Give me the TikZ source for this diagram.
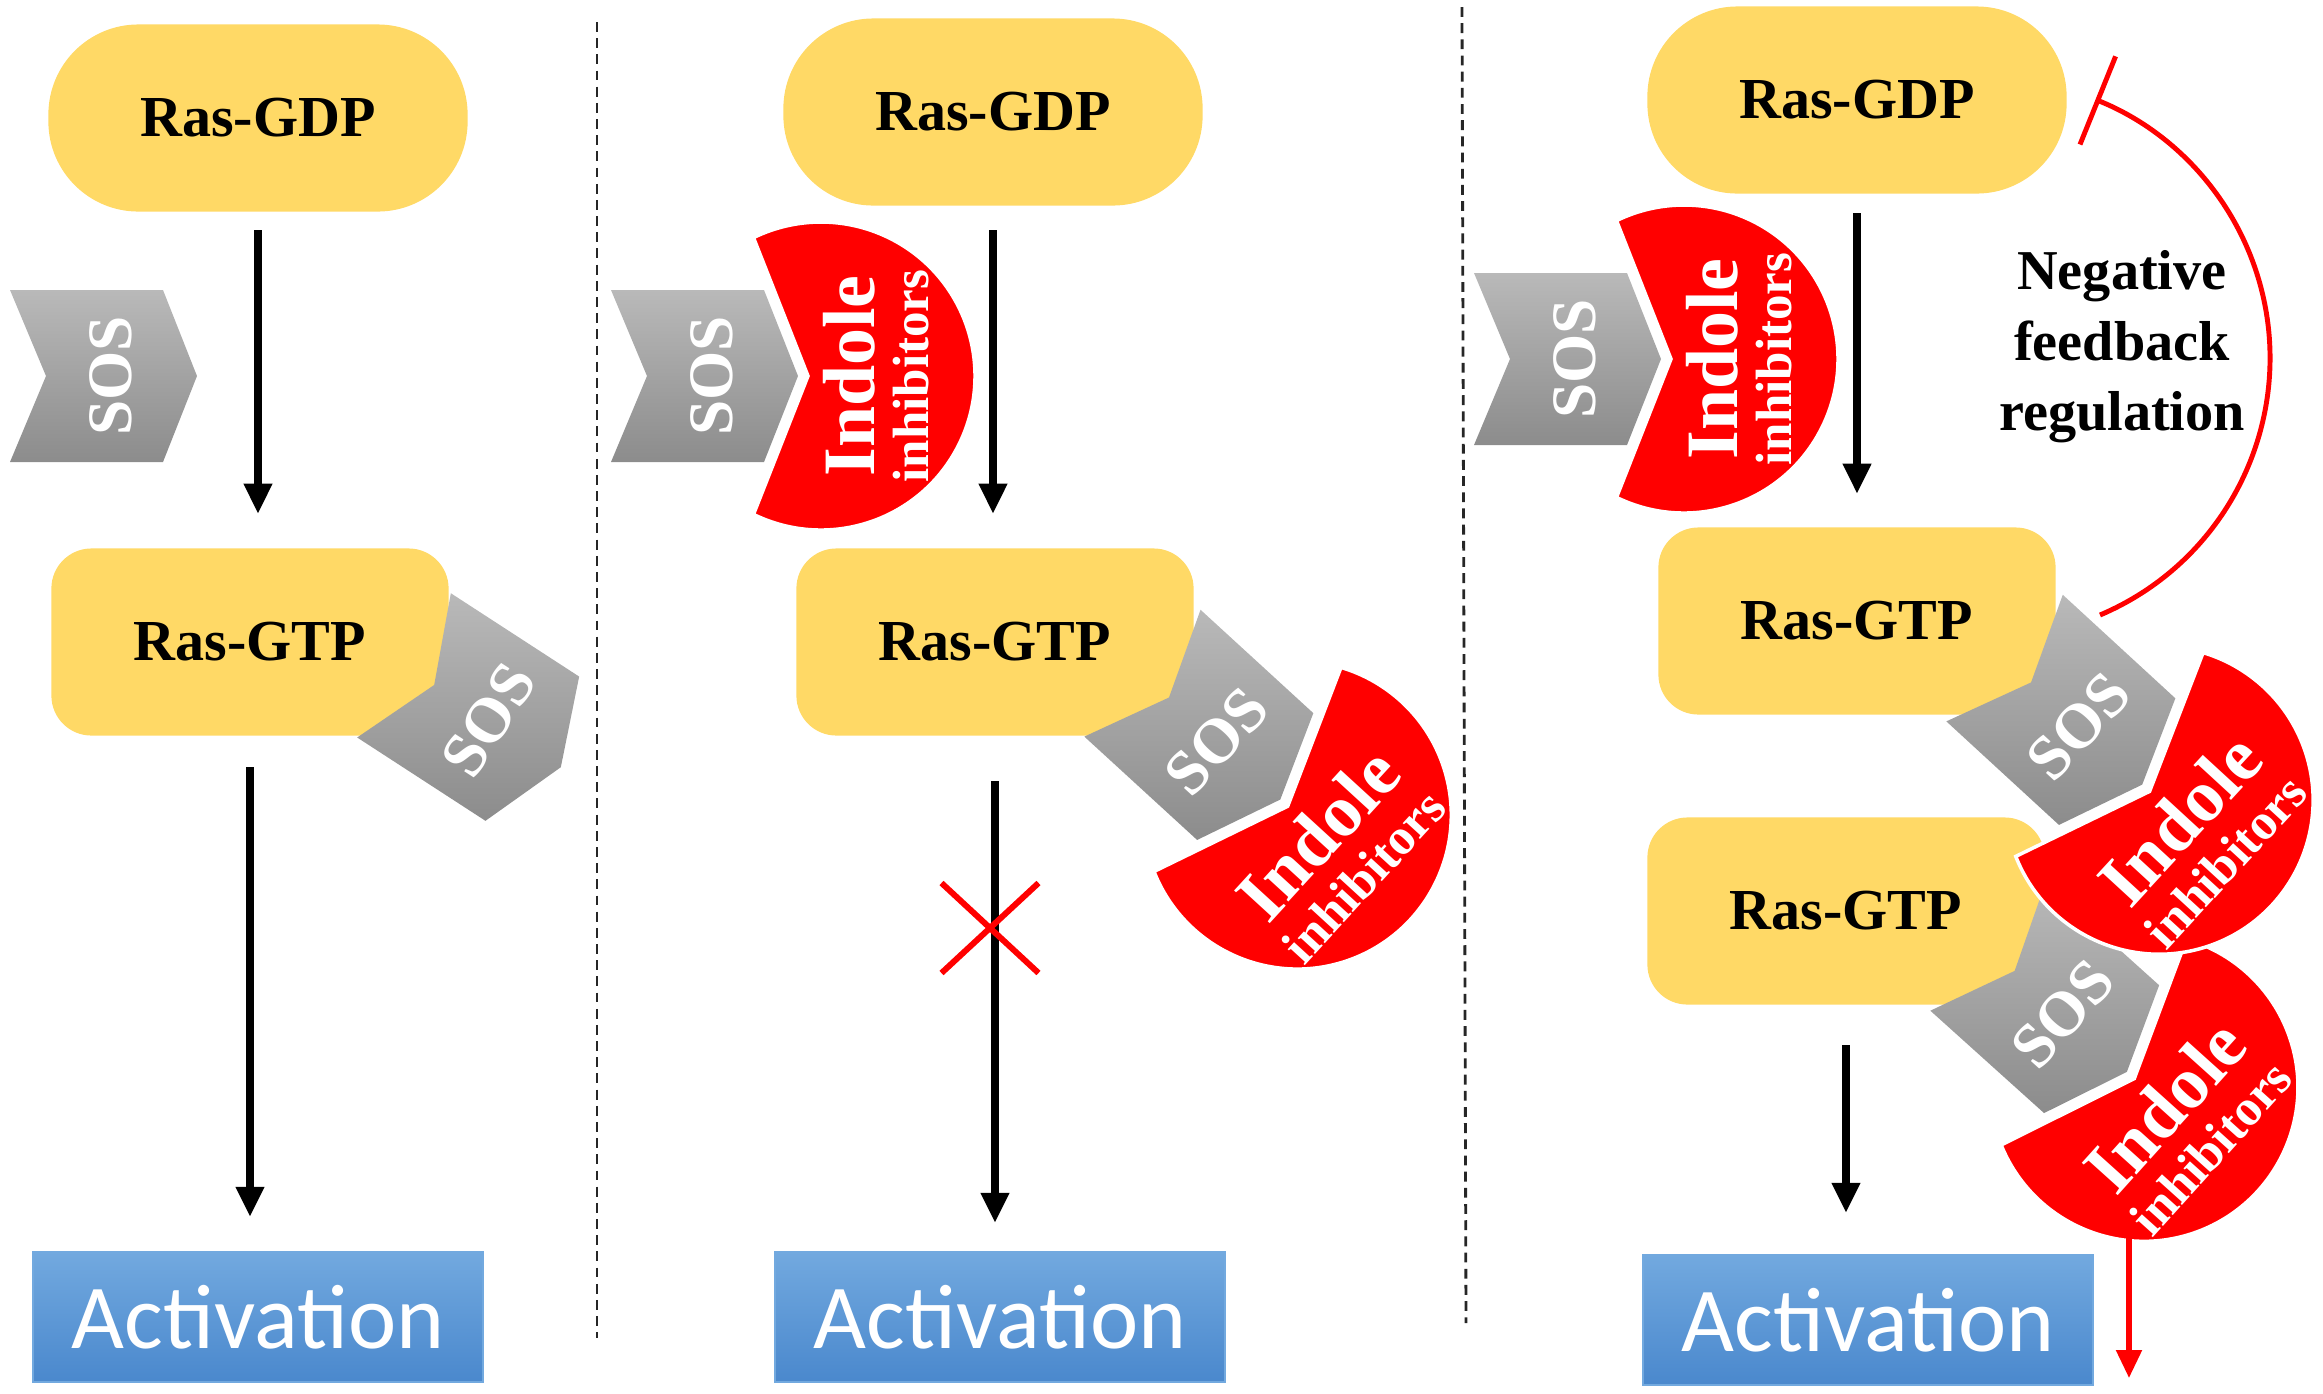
\documentclass[tikz,border=0pt]{standalone}
\usepackage{fontspec}
\setmainfont{Liberation Serif}
\newfontfamily\actfont{Carlito}
\usetikzlibrary{arrows.meta,shapes.misc}
\definecolor{rasyellow}{HTML}{FFD966}
\definecolor{soslight}{HTML}{B9B9B9}
\definecolor{sosdark}{HTML}{8C8C8C}
\definecolor{inhred}{HTML}{FF0000}
\definecolor{actlight}{HTML}{72A9DF}
\definecolor{actdark}{HTML}{4A88CD}
\tikzset{
	gdpbox/.style={fill=rasyellow, rounded corners=0.9cm, minimum width=4.19cm, minimum height=1.87cm, font=\bfseries\fontsize{16.5}{18}\selectfont},
	gtpbox/.style={fill=rasyellow, rounded corners=0.4cm, minimum width=3.97cm, minimum height=1.87cm, font=\bfseries\fontsize{16.5}{18}\selectfont},
	actbox/.style={top color=actlight, bottom color=actdark, draw=actlight, line width=0.6pt, minimum width=4.5cm, minimum height=1.3cm, text=white, font=\actfont\fontsize{26}{28}\selectfont},
	arr/.style={black, line width=2pt, -{Triangle[width=0.27cm,length=0.3cm]}},
	droparr/.style={inhred, line width=1.5pt, -{Triangle[width=0.25cm,length=0.28cm]}},
	fbline/.style={inhred, line width=1.4pt, -{Bar[width=0.95cm]}},
	blockx/.style={cross out, draw=inhred, line width=1.7pt, minimum width=0.91cm, minimum height=0.84cm, inner sep=0pt},
	divider/.style={black!85, line width=0.8pt, dash pattern=on 2.8pt off 1.8pt},
	fbtext/.style={align=center, font=\bfseries\fontsize{16}{20}\selectfont},
	sostext/.style={transform shape, rotate=90, text=white, font=\bfseries\fontsize{18}{20}\selectfont},
	inhtext/.style={transform shape, rotate=90, text=white, align=center, font=\bfseries\fontsize{14.5}{15.5}\selectfont},
	sos/.pic={
		\shade[top color=soslight, bottom color=sosdark] (-93,-86) -- (60,-86) -- (94,0) -- (60,86) -- (-93,86) -- (-57,0) -- cycle;
		\node[sostext] (-label) at (8,0) {SOS};
	},
	indole/.pic={
		\filldraw[fill=inhred, draw=white, line width=1pt] (-13,0) -- (116:154) arc[start angle=116, end angle=-116, radius=154] -- cycle;
		\node[inhtext] (-label) at (55,0) {{\fontsize{21}{15.5}\selectfont Indole}\\inhibitors};
	},
	sosinh/.pic={
		\pic[transform shape] (-sos) at (0,0) {sos};
		\pic[transform shape] (-inh) at (117,0) {indole};
	}
}
\begin{document}
\begin{tikzpicture}[x=0.01cm, y=-0.01cm]
	\useasboundingbox (0,0) rectangle (2323,1393);
	\draw[divider] (597,22) -- (597,1338);
	\draw[divider] (1462,7) -- (1466,1323);
	\node[gdpbox] (gdp1) at (258,118) {Ras-GDP};
	\node[gtpbox] (gtp1) at (250,642) {Ras-GTP};
	\node[actbox] (act1) at (258,1317) {Activation};
	\pic (p1free) at (103,376) {sos};
	\pic[rotate=-33] (p1bound) at (482,716) {sos};
	\draw[arr, shorten <=0.18cm, shorten >=0.34cm] (gdp1.south) -- (gdp1.south |- gtp1.north);
	\draw[arr, shorten <=0.31cm, shorten >=0.34cm] (gtp1.south) -- (gtp1.south |- act1.north);
	\node[gdpbox] (gdp2) at (993,112) {Ras-GDP};
	\node[gtpbox] (gtp2) at (995,642) {Ras-GTP};
	\node[actbox] (act2) at (1000,1317) {Activation};
	\pic (p2free) at (704,376) {sosinh};
	\pic[rotate=-42.5] (p2bound) at (1211,736) {sosinh};
	\draw[arr, shorten <=0.24cm, shorten >=0.34cm] (gdp2.south) -- (gdp2.south |- gtp2.north);
	\draw[arr, shorten <=0.45cm, shorten >=0.28cm] (gtp2.south) -- (gtp2.south |- act2.north);
	\node[blockx] (xmark) at (990,928) {};
	\node[gdpbox] (gdp3) at (1857,100) {Ras-GDP};
	\node[gtpbox] (gtp3a) at (1857,621) {Ras-GTP};
	\node[gtpbox] (gtp3b) at (1846,911) {Ras-GTP};
	\node[actbox] (act3) at (1868,1320) {Activation};
	\pic (p3free) at (1567,359) {sosinh};
	\pic[rotate=-42] (p3low) at (2057,1009) {sosinh};
	\pic[rotate=-42.6] (p3up) at (2073,721) {sosinh};
	\draw[arr, shorten <=0.19cm, shorten >=0.33cm] (gdp3.south) -- (gdp3.south |- gtp3a.north);
	\draw[arr, shorten <=0.40cm, shorten >=0.41cm] (gtp3b.south) -- (gtp3b.south |- act3.north);
	\coordinate (fbstart) at (2100,615);
	\draw[fbline] (fbstart) arc[start angle=67, end angle=-68, radius=279];
	\node[fbtext] (fblabel) at (2122,347) {Negative\\feedback\\regulation};
	\coordinate (dropstart) at (2129,1234);
	\coordinate (dropend) at (2129,1378);
	\draw[droparr] (dropstart) -- (dropend);
\end{tikzpicture}
\end{document}
